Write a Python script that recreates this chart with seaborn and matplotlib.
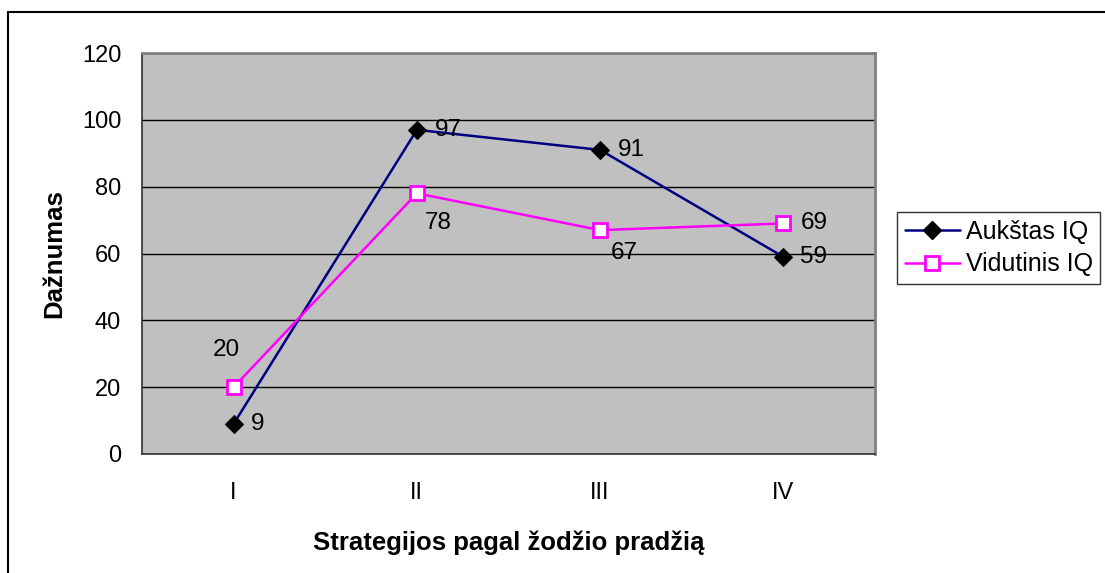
import pandas as pd
import matplotlib.pyplot as plt
import seaborn as sns
from matplotlib.lines import Line2D

# duomenys
strategijos = ["I", "II", "III", "IV"]
aukstas_iq = [9, 97, 91, 59]
vidutinis_iq = [20, 78, 67, 69]
serijos = ["Aukštas IQ", "Vidutinis IQ"]

df = pd.DataFrame({
    "strategija": strategijos * 2,
    "poz": list(range(len(strategijos))) * 2,
    "dažnumas": aukstas_iq + vidutinis_iq,
    "serija": [serijos[0]] * 4 + [serijos[1]] * 4,
})

sns.set_style("white")
plt.rcParams["font.family"] = ["Liberation Sans", "DejaVu Sans"]
plt.rcParams.update({"text.color": "black", "axes.labelcolor": "black",
                     "xtick.color": "black", "ytick.color": "black"})

fig = plt.figure(figsize=(11.05, 5.73), dpi=100)
ax = fig.add_axes([142 / 1105, 119 / 573, 733 / 1105, 401 / 573])
ax.set_facecolor("#C0C0C0")

sns.lineplot(data=df[df["serija"] == serijos[0]], x="poz", y="dažnumas", ax=ax,
             color="#000080", lw=1.8, marker="D", markersize=9,
             markerfacecolor="black", markeredgecolor="black", legend=False)
sns.lineplot(data=df[df["serija"] == serijos[1]], x="poz", y="dažnumas", ax=ax,
             color="#FF00FF", lw=1.8, marker="s", markersize=10,
             markerfacecolor="white", markeredgecolor="#FF00FF", markeredgewidth=2,
             legend=False)

# reikšmių etiketės
off_a = [(17, 0), (18, 0), (18, 0), (17, 0)]
off_v = [(-7, 37), (8, -30), (11, -23), (17, 0)]
for i, v in enumerate(aukstas_iq):
    ax.annotate(str(v), (i, v), xytext=off_a[i], textcoords="offset pixels",
                ha="left", va="center", fontsize=17.5)
for i, v in enumerate(vidutinis_iq):
    ax.annotate(str(v), (i, v), xytext=off_v[i], textcoords="offset pixels",
                ha="center" if off_v[i][0] < 0 else "left", va="center", fontsize=17.5)

ax.set_xlim(-0.5, 3.5)
ax.set_ylim(0, 120)
ax.set_yticks(range(0, 121, 20))
ax.set_xticks(range(4))
ax.set_xticklabels(strategijos)
ax.set_xticks([-0.5, 0.5, 1.5, 2.5, 3.5], minor=True)
ax.tick_params(axis="x", which="major", length=0, pad=20, labelsize=17)
ax.tick_params(axis="x", which="minor", length=6, width=1, color="#202020", direction="out")
ax.tick_params(axis="y", length=6, width=1, color="#202020", direction="out", pad=9, labelsize=17)
ax.grid(axis="y", color="black", lw=1)
ax.set_axisbelow(True)
for s in ["top", "right"]:
    ax.spines[s].set_color("#808080")
    ax.spines[s].set_linewidth(2)
for s in ["left", "bottom"]:
    ax.spines[s].set_color("#303030")
    ax.spines[s].set_linewidth(1.2)

ax.set_xlabel("Strategijos pagal žodžio pradžią", fontsize=18.5, fontweight="bold", labelpad=19)
ax.set_ylabel("Dažnumas", fontsize=18.5, fontweight="bold", labelpad=11)

handles = [
    Line2D([], [], color="#000080", lw=1.8, marker="D", markersize=9,
           markerfacecolor="black", markeredgecolor="black"),
    Line2D([], [], color="#FF00FF", lw=1.8, marker="s", markersize=10,
           markerfacecolor="white", markeredgecolor="#FF00FF", markeredgewidth=2),
]
leg = fig.legend(handles, serijos, loc="center left",
                 bbox_to_anchor=(897 / 1105, 1 - 248 / 573), fontsize=18,
                 frameon=True, fancybox=False, handlelength=2.2, handletextpad=0.25,
                 borderpad=0.3, labelspacing=0.35, borderaxespad=0)
leg.get_frame().set_edgecolor("black")
leg.get_frame().set_linewidth(1)

# rėmelis aplink diagramą
fig.add_artist(Line2D([7.5 / 1105, 7.5 / 1105], [0, 1 - 12 / 573], color="black", lw=1.5))
fig.add_artist(Line2D([7.5 / 1105, 1], [1 - 12 / 573, 1 - 12 / 573], color="black", lw=1.5))

fig.savefig("out.png", dpi=100)
plt.close()
